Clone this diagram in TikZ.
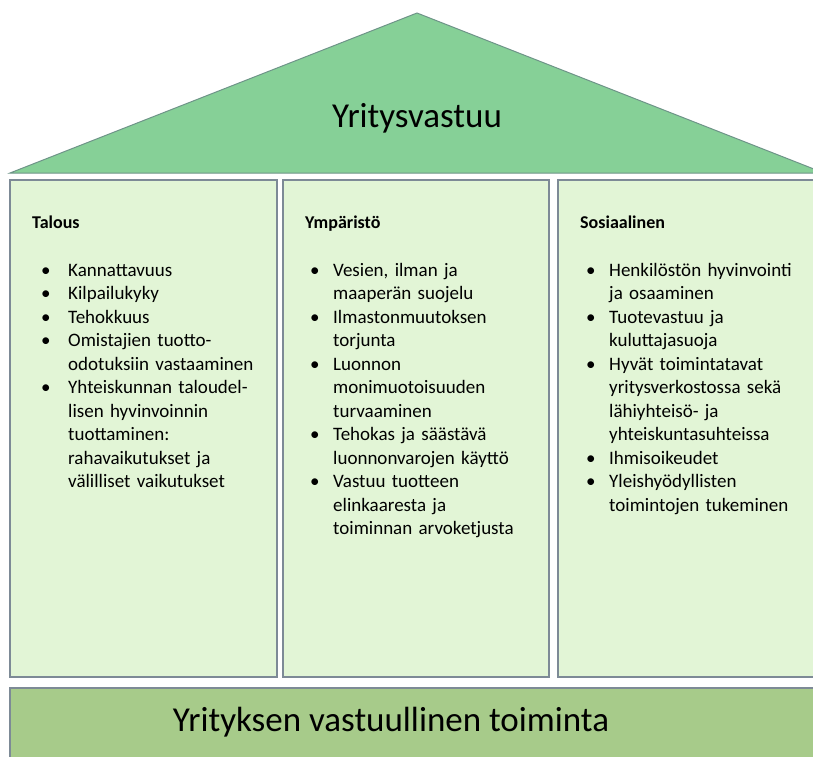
\documentclass[tikz,border=0pt]{standalone}
\usepackage{fontspec}
\setmainfont{Carlito}
\definecolor{roofgreen}{HTML}{86D097}
\definecolor{roofline}{HTML}{6E9488}
\definecolor{boxfill}{HTML}{E2F5D6}
\definecolor{boxline}{HTML}{7D8A96}
\definecolor{basegreen}{HTML}{A7CB8A}
\newlength\bulind\newlength\txtind
\setlength\bulind{9pt}\setlength\txtind{36pt}
\newcommand\itm[1]{\par\raggedright\hangindent=\txtind\hangafter=1\noindent\hspace*{\bulind}\makebox[\dimexpr\txtind-\bulind][l]{\textbullet}{\let\\\newline #1}\par}
\newcommand\head[1]{\noindent{\fontsize{18}{23.5}\selectfont\bfseries #1}\par\vspace{24pt}}
\begin{document}
\begin{tikzpicture}[x=1pt,y=-1pt,font=\fontsize{19}{23.5}\selectfont,
    pillar/.style={draw=boxline,fill=boxfill,line width=1.2pt},
    col/.style={anchor=north west,inner sep=0pt,text width=240pt},
    big/.style={font=\fontsize{35}{40}\selectfont,inner sep=0pt}]
  \useasboundingbox(0,0)rectangle(813,756);
  \draw[draw=roofline,fill=roofgreen,line width=1pt](10,173)--(417,13)--(824,173)--cycle;
  \node[big](roof)at(417,118){Yritysvastuu};
  \draw[pillar](10,180)rectangle(277,677);
  \draw[pillar](283,180)rectangle(549,677);
  \draw[pillar](558,180)rectangle(830,677);
  \draw[draw=boxline,fill=basegreen,line width=1.2pt](10,688)rectangle(830,780);
  \node[big](base)at(391,722){Yrityksen vastuullinen toiminta};
  \node[col](talous)at(32,216){\head{Talous}
    \itm{Kannattavuus}
    \itm{Kilpailukyky}
    \itm{Tehokkuus}
    \itm{Omistajien tuotto-\\odotuksiin vastaaminen}
    \itm{Yhteiskunnan taloudel-\\lisen hyvinvoinnin\\tuottaminen:\\rahavaikutukset ja\\välilliset vaikutukset}};
  \node[col](ymparisto)at(305,216){\setlength\bulind{5pt}\setlength\txtind{28pt}\head{Ympäristö}
    \itm{Vesien, ilman ja\\maaperän suojelu}
    \itm{Ilmastonmuutoksen\\torjunta}
    \itm{Luonnon\\monimuotoisuuden\\turvaaminen}
    \itm{Tehokas ja säästävä\\luonnonvarojen käyttö}
    \itm{Vastuu tuotteen\\elinkaaresta ja\\toiminnan arvoketjusta}};
  \node[col](sosiaalinen)at(580,216){\setlength\bulind{6pt}\setlength\txtind{29pt}\head{Sosiaalinen}
    \itm{Henkilöstön hyvinvointi\\ja osaaminen}
    \itm{Tuotevastuu ja\\kuluttajasuoja}
    \itm{Hyvät toimintatavat\\yritysverkostossa sekä\\lähiyhteisö- ja\\yhteiskuntasuhteissa}
    \itm{Ihmisoikeudet}
    \itm{Yleishyödyllisten\\toimintojen tukeminen}};
\end{tikzpicture}
\end{document}
